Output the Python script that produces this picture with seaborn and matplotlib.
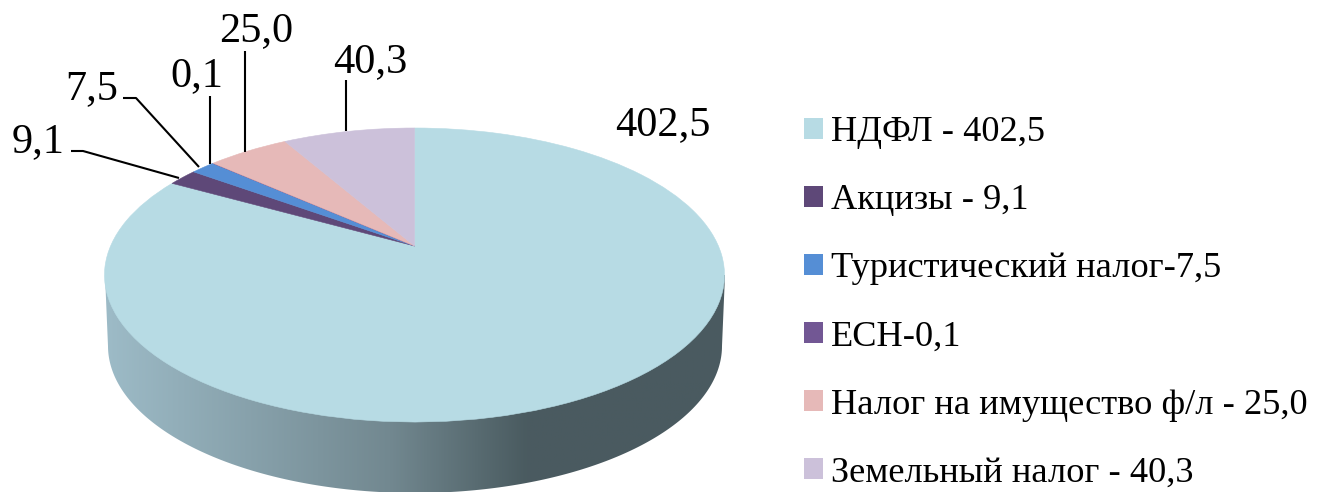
import numpy as np
import matplotlib
matplotlib.use("Agg")
import matplotlib.pyplot as plt
import seaborn as sns
from matplotlib.patches import Patch, Polygon
from matplotlib.transforms import Transform
from matplotlib.colors import LinearSegmentedColormap

categories = ["НДФЛ", "Акцизы", "Туристический налог", "ЕСН", "Налог на имущество ф/л", "Земельный налог"]
values = [402.5, 9.1, 7.5, 0.1, 25.0, 40.3]
value_labels = ["402,5", "9,1", "7,5", "0,1", "25,0", "40,3"]
legend_labels = ["НДФЛ - 402,5", "Акцизы - 9,1", "Туристический налог-7,5", "ЕСН-0,1",
                 "Налог на имущество ф/л - 25,0", "Земельный налог - 40,3"]
colors = ["#B7DBE4", "#5E4878", "#558ED5", "#725794", "#E6B9B8", "#CCC1DA"]

W, H = 1324, 492
sns.set_theme(style="white")
plt.rcParams["font.family"] = ["Liberation Serif", "DejaVu Serif"]

fig = plt.figure(figsize=(W / 100, H / 100), dpi=100)
ax = fig.add_axes([0, 0, 1, 1])

# Perspective view of the pie disc, in picture pixels
CX, CY, RX, RY = 415.0, 275.0, 310.0, 147.0
APEX_Y = 246.0
d = CY - APEX_Y
up, down = (APEX_Y - (CY - RY)), ((CY + RY) - APEX_Y)
K = (down - up) / (down + up)
A = up * (1 + K)
B = RX * np.sqrt(1 - (d / RY) ** 2)


class Tilt(Transform):
    input_dims = output_dims = 2
    is_separable = False
    has_inverse = False

    def transform_non_affine(self, xy):
        xy = np.asarray(xy, float)
        w = 1 + K * xy[:, 1]
        return np.column_stack([CX - 0.5 + B * xy[:, 0] / w, APEX_Y - A * xy[:, 1] / w])


wedges, _ = ax.pie(values, colors=sns.color_palette(colors), startangle=90, counterclock=False,
                   wedgeprops=dict(linewidth=0.4, antialiased=True))
for wd, c in zip(wedges, colors):
    wd.set_edgecolor(c)
    wd.set_transform(Tilt() + ax.transData)
    wd.set_zorder(3)

ax.set_aspect("auto")
ax.set_xlim(0, W)
ax.set_ylim(H, 0)
ax.axis("off")

# Extruded side with a horizontal shade
DEPTH = 71.0
t = np.linspace(np.pi, 0, 200)
side = np.column_stack([CX + (RX - 3) * np.cos(t), CY + DEPTH + RY * np.sin(t)])
side = np.vstack([[CX - RX, CY], side, [CX + RX, CY]])
clip = Polygon(side, closed=True, transform=ax.transData, facecolor="none", edgecolor="none")
ax.add_patch(clip)
cmap = LinearSegmentedColormap.from_list("side", [(0, "#9DBBC7"), (0.46, "#728890"), (0.68, "#4A5B60"), (1, "#4A5A60")])
im = ax.imshow(np.linspace(0, 1, 256)[None, :], cmap=cmap, aspect="auto",
               extent=(CX - RX, CX + RX, H, CY), zorder=2)
im.set_clip_path(clip)
ax.set_xlim(0, W)
ax.set_ylim(H, 0)

# Data labels and leader lines
label_pos = [(662.5, 135), (38, 152), (92, 99), (197, 86), (256, 41), (370, 72)]
for s, (x, y) in zip(value_labels, label_pos):
    ax.text(x, y, s, fontsize=30.5, ha="center", va="baseline", color="black", zorder=5)
leaders = [[(71, 151), (83, 151), (179, 178)],
           [(123, 98), (136, 98), (199, 167)],
           [(210, 96), (210, 164)],
           [(245, 51), (245, 152)],
           [(346, 80), (346, 131)]]
for pts in leaders:
    xs, ys = zip(*pts)
    ax.plot(xs, ys, color="black", lw=1.5, zorder=4, solid_capstyle="butt")

handles = [Patch(facecolor=c, edgecolor="none") for c in colors]
leg = ax.legend(handles, legend_labels, loc="center left", bbox_to_anchor=(804 / W, 1 - 303 / H),
                frameon=False, fontsize=26.2, handlelength=0.52, handleheight=0.52,
                handletextpad=0.22, labelspacing=0.963, borderpad=0, borderaxespad=0,
                labelcolor="black")

fig.savefig("out.png", dpi=100, facecolor="white")
